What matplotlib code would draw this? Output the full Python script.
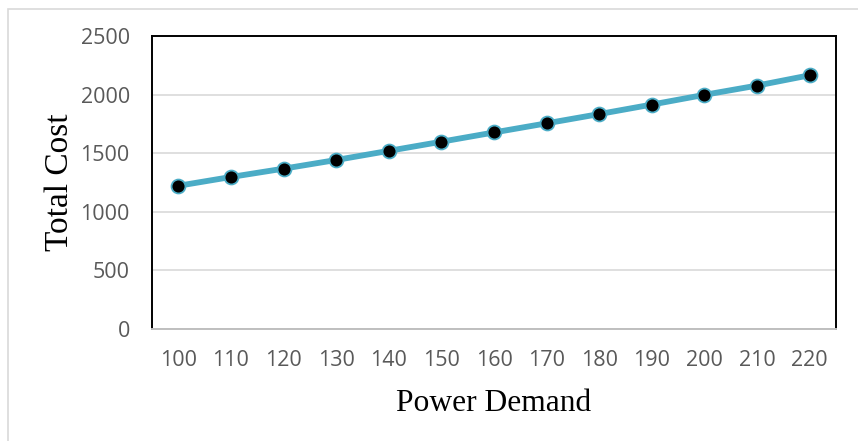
import matplotlib

matplotlib.use("Agg")
import matplotlib.pyplot as plt
from matplotlib.patches import Rectangle

# data
demand = [100, 110, 120, 130, 140, 150, 160, 170, 180, 190, 200, 210, 220]
total_cost = [1222, 1297, 1368, 1442, 1520, 1598, 1677, 1755, 1834, 1915, 1998, 2077, 2165]
y_ticks = [0, 500, 1000, 1500, 2000, 2500]

_LINE = "#4BACC6"
_GRID = "#D9D9D9"
_TICK = "#595959"

fig = plt.figure(figsize=(8.58, 4.41), dpi=100)
ax = fig.add_axes([152 / 858, 1 - 329 / 441, (836 - 152) / 858, (329 - 36) / 441])

# light outer chart-area border (only left/top visible in reference)
fig.patches.append(Rectangle((8 / 858, -0.1), 1.2, 1 - 9 / 441 + 0.1,
                             transform=fig.transFigure, fill=False,
                             edgecolor="#D9D9D9", linewidth=1.2))

x_pos = list(range(len(demand)))
ax.plot(x_pos, total_cost, color=_LINE, linewidth=4.2, marker="o",
        markersize=10, markerfacecolor="black", markeredgecolor=_LINE,
        markeredgewidth=1.3, zorder=3)

ax.set_xlim(-0.5, len(demand) - 0.5)
ax.set_ylim(0, 2500)
ax.set_xticks(x_pos)
ax.set_xticklabels([str(d) for d in demand])
ax.set_yticks(y_ticks)
ax.tick_params(length=0, labelsize=15.5, labelcolor=_TICK)
ax.tick_params(axis="y", pad=16)
ax.tick_params(axis="x", pad=15)
for lbl in ax.get_xticklabels() + ax.get_yticklabels():
    lbl.set_fontfamily("Open Sans")

ax.grid(axis="y", color=_GRID, linewidth=1.2, zorder=0)
ax.set_axisbelow(True)
for side in ["left", "top", "right"]:
    ax.spines[side].set_color("black")
    ax.spines[side].set_linewidth(1.4)
ax.spines["bottom"].set_color("#BFBFBF")
ax.spines["bottom"].set_linewidth(1.4)

ax.set_xlabel("Power Demand", fontfamily="Liberation Serif", fontsize=22.7, labelpad=13)
ax.set_ylabel("Total Cost", fontfamily="Liberation Serif", fontsize=24, labelpad=4)

fig.savefig("out.png", dpi=100)
